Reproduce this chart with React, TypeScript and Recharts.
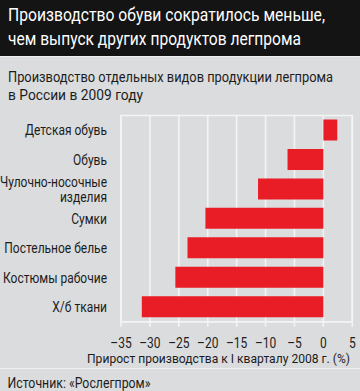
import { BarChart, Bar, XAxis, YAxis, CartesianGrid, ReferenceArea } from 'recharts'

const categories = [
  'Детская обувь',
  'Обувь',
  'Чулочно-носочные\nизделия',
  'Сумки',
  'Постельное белье',
  'Костюмы рабочие',
  'Х/б ткани',
]
const growth = [2.4, -6.2, -11.3, -20.4, -23.5, -25.6, -31.4]
const xTicks = [-35, -30, -25, -20, -15, -10, -5, 0, 5]

const data = categories.map((name, i) => ({ name, value: growth[i] }))

const FONT = 'Roboto, "Liberation Sans", sans-serif'
const BG = '#dbdcde'
const RED = '#e81d25'
const INK = '#1c1c1c'
const SQUEEZE = 0.8

// eslint-disable-next-line @typescript-eslint/no-explicit-any
function CategoryTick({ x, y, payload }: any) {
  const lines = String(payload.value).split('\n')
  const start = -((lines.length - 1) * 15) / 2
  return (
    <g transform={`translate(${x},${y}) scale(${SQUEEZE},1)`}>
      <text x={0} y={0} textAnchor="end" fill={INK} fontSize={15} fontFamily={FONT}>
        {lines.map((l, i) => (
          <tspan key={i} x={0} y={start + i * 15 + 5}>{l}</tspan>
        ))}
      </text>
    </g>
  )
}

// eslint-disable-next-line @typescript-eslint/no-explicit-any
function ValueTick({ x, y, payload }: any) {
  const v = payload.value as number
  const label = v < 0 ? `\u2013${-v}` : `${v}`
  return (
    <g transform={`translate(${x},${y + 19.5}) scale(${SQUEEZE},1)`}>
      <text x={0} y={0} textAnchor="middle" fill={INK} fontSize={15} fontFamily={FONT}>{label}</text>
    </g>
  )
}

export default function App() {
  return (
    <div style={{ position: 'absolute', left: 0, top: 0, width: 360, height: 391, background: BG, overflow: 'hidden' }}>
      <div style={{ position: 'absolute', left: 0, top: 0, width: 360, height: 56, background: '#141414' }} />
      <div style={{ position: 'absolute', left: 0, top: 56, width: 360, height: 1, background: '#f0f0f0' }} />
      <div style={{ position: 'absolute', left: 0, top: 368, width: 360, height: 1, background: '#f0f0f0' }} />
      <div style={{ position: 'absolute', left: 0, top: 0 }}>
        <BarChart
          width={360}
          height={391}
          data={data}
          layout="vertical"
          margin={{ top: 115.5, right: 7.7, bottom: 39.3, left: 8 }}
          barCategoryGap={8}
        >
          <CartesianGrid stroke="#f4f4f4" strokeWidth={1.6} horizontal={false} />
          <XAxis
            type="number"
            domain={[-35, 5]}
            ticks={xTicks}
            interval={0}
            axisLine={{ stroke: '#f4f4f4', strokeWidth: 1.6 }}
            tickLine={{ stroke: '#f4f4f4', strokeWidth: 1.6 }}
            tickSize={5}
            tickMargin={2}
            tick={<ValueTick />}
            height={30}
          />
          <YAxis
            type="category"
            dataKey="name"
            width={113}
            axisLine={false}
            tickLine={false}
            tickSize={0}
            tickMargin={14}
            tick={<CategoryTick />}
            interval={0}
          />
          <ReferenceArea x1={-35} x2={5} fill="none" fillOpacity={0} stroke="#f4f4f4" strokeWidth={1.6} />
          <Bar dataKey="value" fill={RED} barSize={21} isAnimationActive={false} />
        </BarChart>
      </div>
      <svg width={360} height={391} style={{ position: 'absolute', left: 0, top: 0, pointerEvents: 'none' }}>
        <g fontFamily={FONT}>
          <text x={8} y={21} fill="#ffffff" fontSize={18} textLength={317} lengthAdjust="spacingAndGlyphs">
            Производство обуви сократилось меньше,
          </text>
          <text x={8} y={45} fill="#ffffff" fontSize={18} textLength={293} lengthAdjust="spacingAndGlyphs">
            чем выпуск других продуктов легпрома
          </text>
          <text x={8} y={82} fill={INK} fontSize={15} textLength={325} lengthAdjust="spacingAndGlyphs">
            Производство отдельных видов продукции легпрома
          </text>
          <text x={8} y={100} fill={INK} fontSize={15} textLength={135} lengthAdjust="spacingAndGlyphs">
            в России в 2009 году
          </text>
          <text x={87} y={363} fill={INK} fontSize={13.5} textLength={263} lengthAdjust="spacingAndGlyphs">
            Прирост производства к I кварталу 2008 г. (%)
          </text>
          <text x={7.5} y={387.5} fill={INK} fontSize={14.5} textLength={143} lengthAdjust="spacingAndGlyphs">
            Источник: «Рослегпром»
          </text>
        </g>
      </svg>
    </div>
  )
}
